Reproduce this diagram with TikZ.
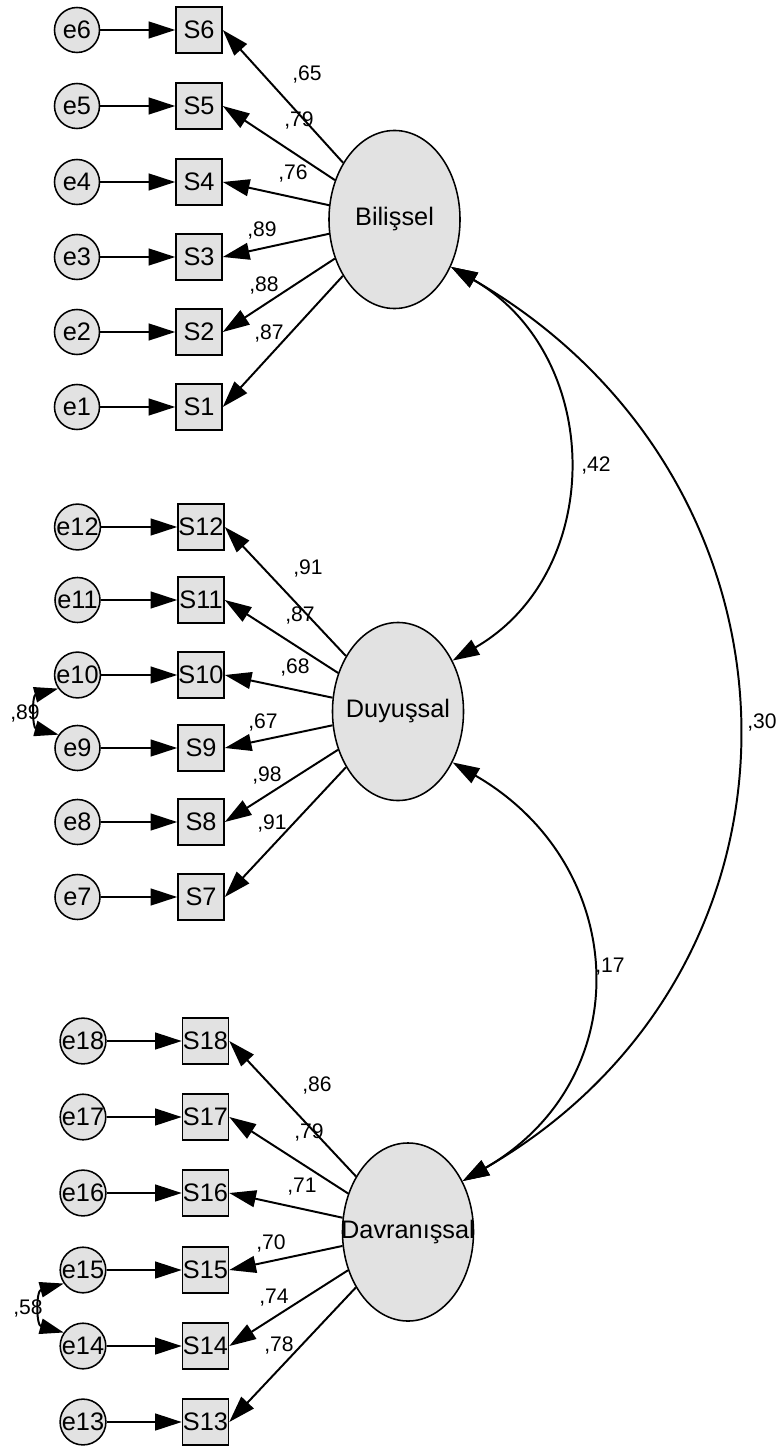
\documentclass[tikz,border=0pt]{standalone}
\usepackage{fontspec}
\setmainfont{Liberation Sans}
\usetikzlibrary{arrows.meta, shapes.geometric}
\definecolor{nodegray}{HTML}{E2E2E2}
\tikzset{
	obs/.style = {draw, fill=nodegray, line width=1.1pt, minimum size=1.15cm, inner sep=0pt, font=\fontsize{18}{20}\selectfont},
	err/.style = {draw, circle, fill=nodegray, line width=1.1pt, minimum size=1.125cm, inner sep=0pt, font=\fontsize{18}{20}\selectfont},
	lat/.style = {draw, ellipse, fill=nodegray, line width=1.1pt, minimum width=3.275cm, minimum height=4.45cm, inner sep=0pt, label={[font=\fontsize{18}{20}\selectfont]center:#1}},
	wt/.style = {font=\fontsize{15}{16}\selectfont, inner sep=0pt},
	errcov/.style = {<->, >={Triangle[length=17pt,width=11pt]}}
}
\begin{document}
\begin{tikzpicture}[x=0.025cm, y=0.025cm, line width=1.4pt, >={Triangle[length=19pt,width=12pt]}]
	\useasboundingbox (0,0) rectangle (778,-1450);
	% Bilissel
	\node[lat=Bilişsel] (Bil) at (394.5,-219.5) {};
	\node[obs] (S6) at (199,-30) {S6};
	\node[obs] (S5) at (199,-106) {S5};
	\node[obs] (S4) at (199,-182) {S4};
	\node[obs] (S3) at (199,-257) {S3};
	\node[obs] (S2) at (199,-332) {S2};
	\node[obs] (S1) at (199,-407) {S1};
	\node[err] (e6) at (77,-30) {e6};
	\node[err] (e5) at (77,-106) {e5};
	\node[err] (e4) at (77,-182) {e4};
	\node[err] (e3) at (77,-257) {e3};
	\node[err] (e2) at (77,-332) {e2};
	\node[err] (e1) at (77,-407) {e1};
		\draw[->] (e6) -- (S6);
		\draw[->] (e5) -- (S5);
		\draw[->] (e4) -- (S4);
		\draw[->] (e3) -- (S3);
		\draw[->] (e2) -- (S2);
		\draw[->] (e1) -- (S1);
		\draw[->] (Bil) -- (S6.east);
		\draw[->] (Bil) -- (S5.east);
		\draw[->] (Bil) -- (S4.east);
		\draw[->] (Bil) -- (S3.east);
		\draw[->] (Bil) -- (S2.east);
		\draw[->] (Bil) -- (S1.east);
	\node[wt] (w6) at (307,-74) {,65};
	\node[wt] (w5) at (299,-120) {,79};
	\node[wt] (w4) at (293,-173) {,76};
	\node[wt] (w3) at (262,-230) {,89};
	\node[wt] (w2) at (264,-285) {,88};
	\node[wt] (w1) at (269,-333) {,87};
	% Duyussal
	\node[lat=Duyuşsal] (Duy) at (398,-711.5) {};
	\node[obs] (S12) at (201,-527) {S12};
	\node[obs] (S11) at (201,-600) {S11};
	\node[obs] (S10) at (201,-675) {S10};
	\node[obs] (S9) at (201,-748) {S9};
	\node[obs] (S8) at (201,-822) {S8};
	\node[obs] (S7) at (201,-897) {S7};
	\node[err] (e12) at (77.5,-527) {e12};
	\node[err] (e11) at (77.5,-600) {e11};
	\node[err] (e10) at (77.5,-675) {e10};
	\node[err] (e9) at (77.5,-748) {e9};
	\node[err] (e8) at (77.5,-822) {e8};
	\node[err] (e7) at (77.5,-897) {e7};
		\draw[->] (e12) -- (S12);
		\draw[->] (e11) -- (S11);
		\draw[->] (e10) -- (S10);
		\draw[->] (e9) -- (S9);
		\draw[->] (e8) -- (S8);
		\draw[->] (e7) -- (S7);
		\draw[->] (Duy) -- (S12.east);
		\draw[->] (Duy) -- (S11.east);
		\draw[->] (Duy) -- (S10.east);
		\draw[->] (Duy) -- (S9.east);
		\draw[->] (Duy) -- (S8.east);
		\draw[->] (Duy) -- (S7.east);
		\draw[errcov] (e10.215) to[out=195, in=165, looseness=1.5] (e9.145);
	\node[wt] (w12) at (308,-568) {,91};
	\node[wt] (w11) at (300,-615) {,87};
	\node[wt] (w10) at (295,-667) {,68};
	\node[wt] (w9) at (263,-722) {,67};
	\node[wt] (w8) at (267,-775) {,98};
	\node[wt] (w7) at (272,-823) {,91};
	\node[wt] (c910) at (25,-713) {,89};
	% Davranissal
	\node[lat=Davranışsal] (Dav) at (408,-1232) {};
	\node[obs] (S18) at (205.5,-1041) {S18};
	\node[obs] (S17) at (205.5,-1117) {S17};
	\node[obs] (S16) at (205.5,-1193) {S16};
	\node[obs] (S15) at (205.5,-1270) {S15};
	\node[obs] (S14) at (205.5,-1346) {S14};
	\node[obs] (S13) at (205.5,-1422) {S13};
	\node[err] (e18) at (83,-1041) {e18};
	\node[err] (e17) at (83,-1117) {e17};
	\node[err] (e16) at (83,-1193) {e16};
	\node[err] (e15) at (83,-1270) {e15};
	\node[err] (e14) at (83,-1346) {e14};
	\node[err] (e13) at (83,-1422) {e13};
		\draw[->] (e18) -- (S18);
		\draw[->] (e17) -- (S17);
		\draw[->] (e16) -- (S16);
		\draw[->] (e15) -- (S15);
		\draw[->] (e14) -- (S14);
		\draw[->] (e13) -- (S13);
		\draw[->] (Dav) -- (S18.east);
		\draw[->] (Dav) -- (S17.east);
		\draw[->] (Dav) -- (S16.east);
		\draw[->] (Dav) -- (S15.east);
		\draw[->] (Dav) -- (S14.east);
		\draw[->] (Dav) -- (S13.east);
		\draw[errcov] (e15.215) to[out=195, in=165, looseness=1.5] (e14.145);
	\node[wt] (w18) at (317,-1085) {,86};
	\node[wt] (w17) at (309,-1132) {,79};
	\node[wt] (w16) at (302,-1187) {,71};
	\node[wt] (w15) at (271,-1243) {,70};
	\node[wt] (w14) at (274,-1298) {,74};
	\node[wt] (w13) at (279,-1345) {,78};
	\node[wt] (c1415) at (28,-1308) {,58};
	% correlations
		\draw[<->] (Bil.-40) to[out=-30, in=30, looseness=1.15] (Duy.43);
		\draw[<->] (Bil.-40) to[out=-30, in=30, looseness=1.2] (Dav.43);
		\draw[<->] (Duy.-43) to[out=-30, in=30, looseness=1.25] (Dav.43);
	\node[wt] (c12) at (596,-465) {,42};
	\node[wt] (c13) at (762,-722) {,30};
	\node[wt] (c23) at (610,-967) {,17};
\end{tikzpicture}
\end{document}
